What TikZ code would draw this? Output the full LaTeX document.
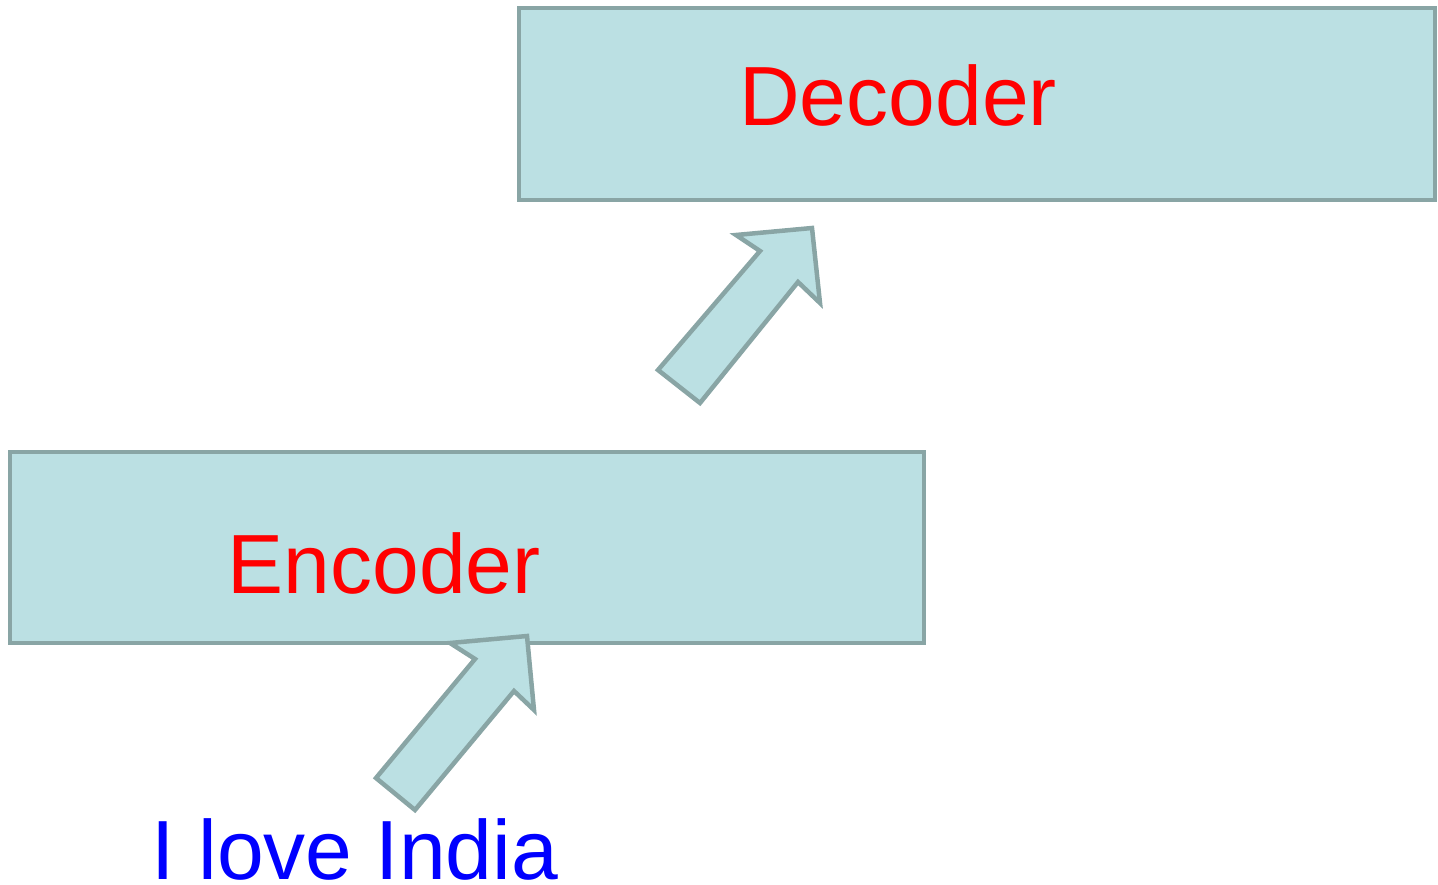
\documentclass[tikz,border=0pt]{standalone}
\usepackage{fontspec}
\setmainfont{Liberation Sans}
\definecolor{boxfill}{HTML}{BBE0E3}
\definecolor{boxline}{HTML}{89A5A5}
\definecolor{txtred}{HTML}{FF0000}
\definecolor{txtblue}{HTML}{0000FF}
\begin{document}
\begin{tikzpicture}[x=1pt,y=-1pt,
  blockbox/.style={draw=boxline,fill=boxfill,line width=4.5pt,line join=miter,inner sep=0pt},
  bigarrow/.style={draw=boxline,fill=boxfill,line width=4.5pt,line join=miter},
  label/.style={anchor=base,inner sep=0pt,text depth=0pt,font=\fontsize{84}{100}\selectfont}]
\useasboundingbox (0,0) rectangle (1438,884);
\node[blockbox,minimum width=916pt,minimum height=192pt] (dec) at (977,104) {};
\node[blockbox,minimum width=914pt,minimum height=191pt] (enc) at (467,547.5) {};
\node[label,text=txtred] (dect) at (898,125) {Decoder};
\node[label,text=txtred] (enct) at (384,593) {Encoder};
\draw[bigarrow] (658,370) -- (700,403) -- (798,282) -- (820,303) -- (812,228) -- (736,235) -- (760,251) -- cycle;
\draw[bigarrow] (376,778) -- (415,810) -- (514,691) -- (534,710) -- (527,636) -- (450,643) -- (475,659) -- cycle;
\node[label,text=txtblue] (inp) at (355,879) {I love India};
\end{tikzpicture}
\end{document}
